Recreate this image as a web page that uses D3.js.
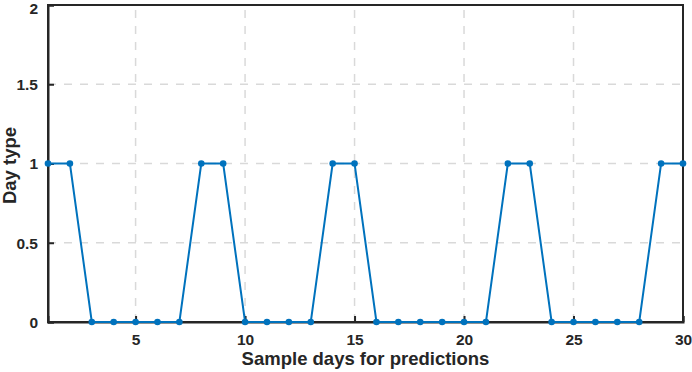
<!DOCTYPE html>
<html>
<head>
<meta charset="utf-8">
<script src="https://cdnjs.cloudflare.com/ajax/libs/d3/7.8.5/d3.min.js"></script>
<style>
  body { margin: 0; background: #fff; }
  svg { display: block; font-family: Arial, "Liberation Sans", sans-serif; }
</style>
</head>
<body>
<div id="chart"></div>
<script>
// sample days and predicted day type (0 = workday, 1 = weekend)
var days = d3.range(1, 31)
var dayType = [1, 1, 0, 0, 0, 0, 0, 1, 1, 0, 0, 0, 0, 1, 1, 0, 0, 0, 0, 0, 0, 1, 1, 0, 0, 0, 0, 0, 1, 1]
var xTicks = [5, 10, 15, 20, 25, 30]
var yTicks = [0, 0.5, 1, 1.5, 2]

var width = 692,
  height = 372,
  margin = {top: 5, right: 9, bottom: 50, left: 48}

var x = d3.scaleLinear()
  .domain([1, 30])
  .range([margin.left, width - margin.right])

var y = d3.scaleLinear()
  .domain([0, 2])
  .range([height - margin.bottom, margin.top])

const svg = d3.select("#chart").append("svg")
  .attr("width", width)
  .attr("height", height)

// dashed grid
svg.append("g")
  .selectAll("line")
  .data(xTicks.filter(d => d < 30))
  .join("line")
    .attr("x1", d => x(d)).attr("x2", d => x(d))
    .attr("y1", y(0)).attr("y2", y(2))
    .attr("stroke", "#d9d9d9")
    .attr("stroke-width", 1.5)
    .attr("stroke-dasharray", "8,8")

svg.append("g")
  .selectAll("line")
  .data(yTicks.filter(d => d > 0 && d < 2))
  .join("line")
    .attr("x1", x(1)).attr("x2", x(30))
    .attr("y1", d => y(d)).attr("y2", d => y(d))
    .attr("stroke", "#d9d9d9")
    .attr("stroke-width", 1.5)
    .attr("stroke-dasharray", "8,8")

// box
svg.append("rect")
  .attr("x", x(1)).attr("y", y(2))
  .attr("width", x(30) - x(1))
  .attr("height", y(0) - y(2))
  .attr("fill", "none")
  .attr("stroke", "#262626")
  .attr("stroke-width", 2)

// axes with inward ticks
const xAxis = svg.append("g")
  .attr("transform", `translate(0,${y(0)})`)
  .call(d3.axisBottom(x).tickValues(xTicks).tickSize(-6).tickPadding(12).tickFormat(d3.format("d")))
const yAxis = svg.append("g")
  .attr("transform", `translate(${x(1)},0)`)
  .call(d3.axisLeft(y).tickValues(yTicks).tickSize(-6).tickPadding(10).tickFormat(d => d))

;[xAxis, yAxis].forEach(a => {
  a.select(".domain").attr("stroke", "#262626").attr("stroke-width", 2)
  a.selectAll(".tick line").attr("stroke", "#262626").attr("stroke-width", 2)
  a.selectAll(".tick text")
    .attr("fill", "#262626")
    .style("font-size", "15.5px")
    .style("font-weight", "bold")
})
yAxis.selectAll(".tick text").attr("dy", d => d == 2 ? "0.52em" : "0.35em")

// line and markers
const line = d3.line()
  .x((d, i) => x(days[i]))
  .y(d => y(d))

svg.append("path")
  .datum(dayType)
  .attr("d", line)
  .attr("fill", "none")
  .attr("stroke", "#0072BD")
  .attr("stroke-width", 2)

svg.append("g")
  .selectAll("circle")
  .data(dayType)
  .join("circle")
    .attr("cx", (d, i) => x(days[i]))
    .attr("cy", d => y(d))
    .attr("r", 3.3)
    .attr("fill", "#0072BD")

// labels
svg.append("text")
  .attr("x", (x(1) + x(30)) / 2)
  .attr("y", 365)
  .attr("text-anchor", "middle")
  .attr("fill", "#262626")
  .style("font-size", "18.5px")
  .style("font-weight", "bold")
  .text("Sample days for predictions")

svg.append("text")
  .attr("transform", `translate(16,${(y(0) + y(2)) / 2 + 2}) rotate(-90)`)
  .attr("text-anchor", "middle")
  .attr("fill", "#262626")
  .style("font-size", "18.5px")
  .style("font-weight", "bold")
  .text("Day type")
</script>
</body>
</html>
